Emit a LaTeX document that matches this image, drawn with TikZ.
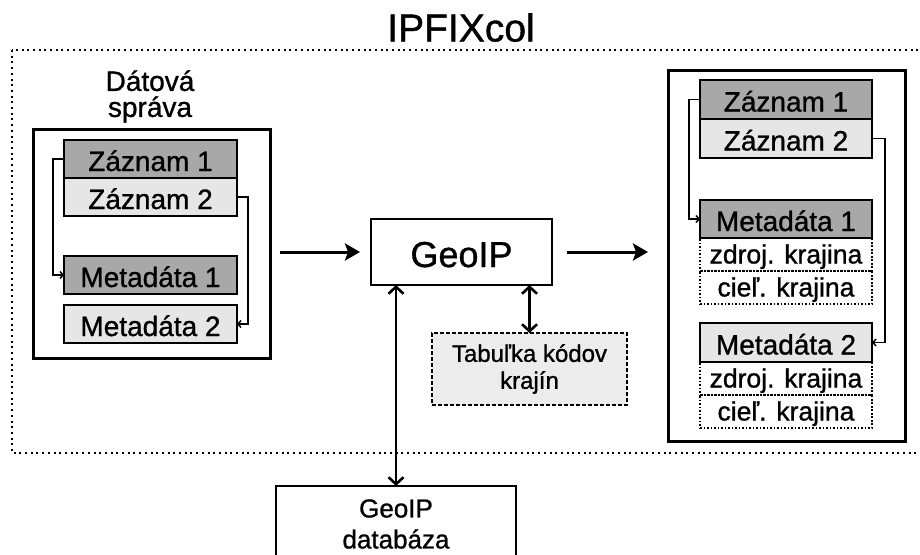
\documentclass[tikz,border=0pt]{standalone}
\usepackage{fontspec}
\setmainfont{Liberation Sans}[FakeBold=1.0]
\usetikzlibrary{arrows.meta}
\definecolor{darkfill}{HTML}{A8A8A8}
\definecolor{lightfill}{HTML}{E6E6E6}
\definecolor{tabfill}{HTML}{ECECEC}
\begin{document}
\begin{tikzpicture}[x=1pt,y=-1pt,
  every node/.style={inner sep=0pt, outer sep=0pt},
  outerbox/.style={draw, line width=3pt},
  rec/.style={draw, line width=2.5pt, minimum width=173pt, minimum height=38pt,
    font=\fontsize{28}{30}\selectfont, text height=24pt, text depth=0pt},
  dark/.style={rec, fill=darkfill},
  light/.style={rec, fill=lightfill},
  sub/.style={draw, line width=1.8pt, dash pattern=on 1.6pt off 1.9pt,
    minimum width=172pt, minimum height=33pt,
    font=\fontsize{26.5}{28}\selectfont, text height=18pt, text depth=0pt},
  bigarrow/.style={line width=3pt, -{Stealth[length=15pt,width=17pt,inset=3pt]}},
  dblarrow/.style={line width=2.6pt, {Straight Barb[length=7pt,width=15pt]}-{Straight Barb[length=7pt,width=15pt]}},
  conn/.style={line width=1.5pt, -{Straight Barb[length=3pt,width=7pt]}},
  dotframe/.style={draw, line width=2pt, dash pattern=on 2pt off 3.7pt}
]
\clip (0,0) rectangle (920,554);
\useasboundingbox (0,0) rectangle (920,554);

% title and boundary
\node[font=\fontsize{39}{40}\selectfont, text height=28pt, text depth=0pt] (title) at (461,27.5) {IPFIXcol};
\draw[dotframe] (12,50) rectangle (940,453);

% left message
\node[font=\fontsize{28}{26}\selectfont, align=center] (dsp) at (150,96.5) {Dátová\\správa};
\node[outerbox, minimum width=237pt, minimum height=229pt] (lbox) at (151.5,243.5) {};
\node[dark]  (lz1) at (150.5,159) {Záznam 1};
\node[light] (lz2) at (150.5,197) {Záznam 2};
\node[dark]  (lm1) at (150.5,275) {Metadáta 1};
\node[light] (lm2) at (150.5,324) {Metadáta 2};
\draw[conn] (lz1.west) -- ++(-11,0) |- (lm1.west);
\draw[conn] (lz2.east) -- ++(11,0) |- (lm2.east);

% GeoIP
\node[draw, line width=2.5pt, minimum width=181pt, minimum height=66pt,
  font=\fontsize{36}{38}\selectfont, text height=30pt, text depth=0pt] (geo) at (461.5,252) {GeoIP};

% right message
\node[outerbox, minimum width=237pt, minimum height=371pt] (rbox) at (786.5,255.5) {};
\node[dark, minimum width=172pt, minimum height=39pt]  (rz1) at (786,99.5) {Záznam 1};
\node[light, minimum width=172pt, minimum height=39pt] (rz2) at (786,138.5) {Záznam 2};
\node[sub] (rs1) at (786,254.5) {zdroj. krajina};
\node[sub] (rc1) at (786,287.5) {cieľ. krajina};
\node[dark, minimum width=172pt] (rm1) at (786,219) {Metadáta 1};
\node[sub] (rs2) at (786,378.5) {zdroj. krajina};
\node[sub] (rc2) at (786,411.5) {cieľ. krajina};
\node[light, minimum width=172pt, minimum height=39pt] (rm2) at (786,342.5) {Metadáta 2};
\draw[conn] (rz1.west) -- ++(-11,0) |- (rm1.west);
\draw[conn] (rz2.east) -- ++(13,0) |- (rm2.east);

% table and database
\node[draw, fill=tabfill, line width=2pt, dash pattern=on 4pt off 2pt,
  minimum width=195pt, minimum height=72pt, align=center,
  font=\fontsize{24}{27}\selectfont] (tab) at (529.5,369) {Tabuľka kódov\\krajín};
\node[draw, line width=2.6pt, minimum width=240pt, minimum height=76pt, align=center,
  font=\fontsize{26}{31}\selectfont] (db) at (396,524) {GeoIP\\databáza};

% connectors
\draw[bigarrow, shorten <=10pt, shorten >=11pt] (lbox.east |- geo.west) -- (geo.west);
\draw[bigarrow, shorten <=15pt, shorten >=20pt] (geo.east) -- (geo.east -| rbox.west);
\draw[dblarrow] (db.north) -- (db.north |- geo.south);
\draw[dblarrow] (tab.north) -- (tab.north |- geo.south);
\end{tikzpicture}
\end{document}
